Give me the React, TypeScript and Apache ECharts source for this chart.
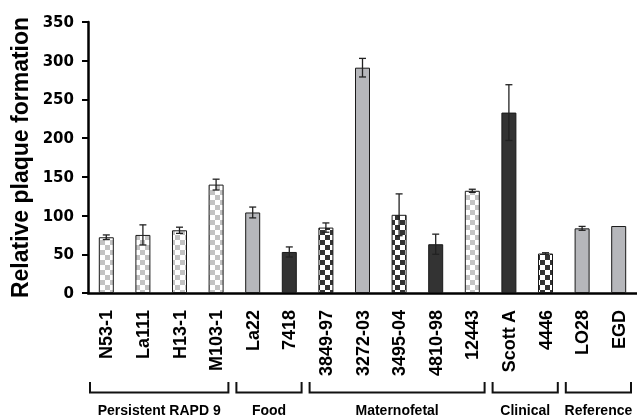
import React, { useEffect, useRef } from "react";
import * as echarts from "echarts";

const categories = ["N53-1", "La111", "H13-1", "M103-1", "La22", "7418", "3849-97", "3272-03", "3495-04", "4810-98", "12443", "Scott A", "4446", "LO28", "EGD"];
const values = [72, 75, 81, 140, 104, 53, 84.5, 291, 101, 63, 132, 233, 51, 83.5, 86.5];
const errors = [3, 13, 4, 7, 7, 6.5, 6, 12, 27, 13, 2, 36, 1, 2.5, 0];
// fill kinds: lc = light checker, dc = dark checker, ls = light solid, ds = dark solid
const fills = ["lc", "lc", "lc", "lc", "ls", "ds", "dc", "ls", "dc", "ds", "lc", "ds", "dc", "ls", "ls"];
const yTicks = [0, 50, 100, 150, 200, 250, 300, 350];
const groupNames = ["Persistent RAPD 9", "Food", "Maternofetal", "Clinical", "Reference"];
const groupStart = [0, 4, 6, 11, 13];
const groupEnd = [3, 5, 10, 12, 14];

const FONT = "'Liberation Sans', Arial, sans-serif";

function checker(color: string): any {
  const c = document.createElement("canvas");
  c.width = 10;
  c.height = 10;
  const ctx = c.getContext("2d")!;
  ctx.fillStyle = "#ffffff";
  ctx.fillRect(0, 0, 10, 10);
  ctx.fillStyle = color;
  ctx.fillRect(0, 0, 5, 5);
  ctx.fillRect(5, 5, 5, 5);
  return { image: c.toDataURL(), repeat: "repeat", imageWidth: 10, imageHeight: 10 };
}

export default function App() {
  const ref = useRef<HTMLDivElement>(null);
  useEffect(() => {
    if (!ref.current) return;
    const chart = echarts.init(ref.current, null, { renderer: "svg" });
    const fillMap: Record<string, any> = {
      lc: checker("#c3c3c3"),
      dc: checker("#333333"),
      ls: "#b6b7bb",
      ds: "#333333",
    };
    const barData = values.map((v, i) => ({
      value: v,
      itemStyle: { color: fillMap[fills[i]] },
    }));
    const errData = categories.map((c, i) => [i, values[i], errors[i]]);
    chart.setOption({
      animation: false,
      grid: { left: 88, right: 0, top: 22, bottom: 125 },
      xAxis: {
        type: "category",
        data: categories,
        axisLine: { lineStyle: { color: "#000", width: 2.5 } },
        axisTick: { length: 6, lineStyle: { color: "#000", width: 2 } },
        axisLabel: {
          rotate: 90,
          interval: 0,
          margin: 17,
          fontSize: 18,
          fontWeight: "bold",
          fontFamily: FONT,
          color: "#000",
        },
      },
      yAxis: {
        type: "value",
        min: yTicks[0],
        max: yTicks[yTicks.length - 1],
        interval: 50,
        name: "Relative plaque formation",
        nameLocation: "middle",
        nameGap: 48,
        nameTextStyle: { fontSize: 23, fontWeight: "bold", fontFamily: FONT, color: "#000" },
        axisLine: { show: true, lineStyle: { color: "#000", width: 2.5 } },
        axisTick: { show: true, length: 6, lineStyle: { color: "#000", width: 2 } },
        splitLine: { show: false },
        axisLabel: {
          margin: 14,
          fontSize: 15,
          fontWeight: "bold",
          fontFamily: "'DejaVu Sans', sans-serif",
          color: "#000",
        },
      },
      series: [
        {
          type: "bar",
          data: barData,
          barWidth: 15,
          itemStyle: { borderColor: "#1a1a1a", borderWidth: 1 },
        },
        {
          type: "custom",
          data: errData,
          encode: { x: 0, y: 1 },
          z: 5,
          renderItem: (params: any, api: any) => {
            const idx = api.value(0);
            const v = api.value(1);
            const e = api.value(2);
            if (!e) return null;
            const top = api.coord([idx, v + e]);
            const bot = api.coord([idx, v - e]);
            const hw = 3.5;
            const st = { stroke: "#222", lineWidth: 1.3 };
            return {
              type: "group",
              children: [
                { type: "line", shape: { x1: top[0], y1: top[1], x2: bot[0], y2: bot[1] }, style: st },
                { type: "line", shape: { x1: top[0] - hw, y1: top[1], x2: top[0] + hw, y2: top[1] }, style: st },
                { type: "line", shape: { x1: bot[0] - hw, y1: bot[1], x2: bot[0] + hw, y2: bot[1] }, style: st },
              ],
            };
          },
        },
      ],
    });
    const c0 = chart.convertToPixel({ xAxisIndex: 0 }, categories[0]) as number;
    const c1 = chart.convertToPixel({ xAxisIndex: 0 }, categories[1]) as number;
    const band = c1 - c0;
    const graphics: any[] = [];
    groupNames.forEach((name, g) => {
      const xs = (chart.convertToPixel({ xAxisIndex: 0 }, categories[groupStart[g]]) as number) - band / 2 + 2;
      const xe = (chart.convertToPixel({ xAxisIndex: 0 }, categories[groupEnd[g]]) as number) + band / 2 - 6;
      graphics.push({
        type: "polyline",
        shape: { points: [[xs, 382], [xs, 392.5], [xe, 392.5], [xe, 382]] },
        style: { stroke: "#111", lineWidth: 2, fill: null },
      });
      graphics.push({
        type: "text",
        x: (xs + xe) / 2,
        y: 409.5,
        style: {
          text: name,
          fontSize: 14,
          fontWeight: "bold",
          fontFamily: FONT,
          fill: "#000",
          align: "center",
          verticalAlign: "middle",
        },
      });
    });
    chart.setOption({ graphic: graphics });
    return () => chart.dispose();
  }, []);
  return <div ref={ref} style={{ position: "fixed", left: 0, top: 0, width: 637, height: 418 }} />;
}
